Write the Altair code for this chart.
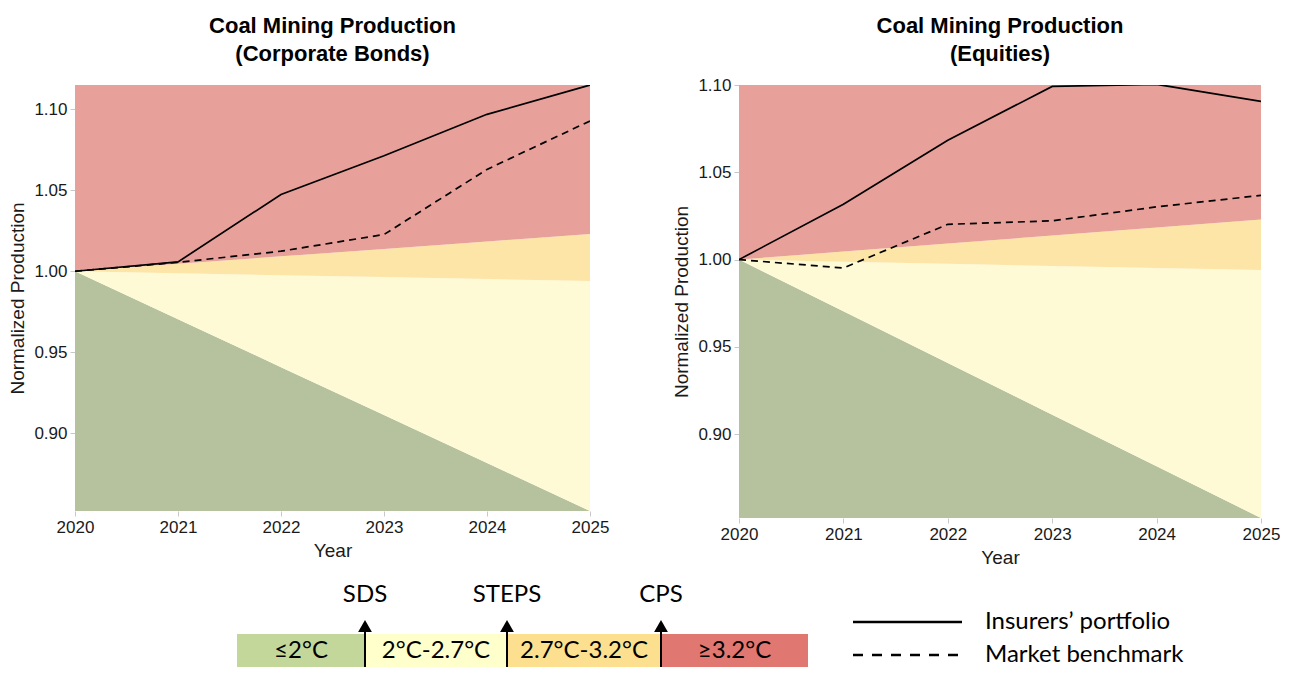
import altair as alt
import pandas as pd

# ---------------- data ----------------
years = [2020, 2021, 2022, 2023, 2024, 2025]

# temperature-scenario band boundaries (normalized production)
sds_bound = [1.000, 0.9704, 0.9408, 0.9112, 0.8816, 0.852]
steps_bound = [1.000, 0.9988, 0.9976, 0.9964, 0.9952, 0.994]
cps_bound = [1.000, 1.0046, 1.0092, 1.0138, 1.0184, 1.023]

bonds_portfolio = [1.000, 1.0058, 1.0474, 1.0713, 1.0969, 1.115]
bonds_benchmark = [1.000, 1.0055, 1.0124, 1.0227, 1.0629, 1.0928]
eq_portfolio = [1.000, 1.0317, 1.0683, 1.0992, 1.1004, 1.0906]
eq_benchmark = [1.000, 0.9952, 1.0202, 1.0222, 1.0302, 1.0368]

bonds_domain = [0.852, 1.115]
eq_domain = [0.852, 1.100]
y_ticks = [0.90, 0.95, 1.00, 1.05, 1.10]

band_colors = {"green": "#B6C29E", "yellow": "#FFFAD6", "orange": "#FDE5A7", "red": "#E8A09A"}

# bottom legend (positions on the legend strip's own scale)
legend_labels = ["≤2°C", "2°C-2.7°C", "2.7°C-3.2°C", "≥3.2°C"]
legend_colors = ["#C4D79B", "#FFFFCC", "#FDE08F", "#E07770"]
legend_breaks = [162, 290, 432, 586, 733]
arrow_names = ["SDS", "STEPS", "CPS"]
line_legend_labels = ["Insurers’ portfolio", "Market benchmark"]

FONT = "Liberation Sans, Arial, sans-serif"
LFONT = "Lato, sans-serif"


def panel(title_lines, portfolio, benchmark, domain, width, height, title_offset):
    df = pd.DataFrame({
        "year": years,
        "lo": [domain[0]] * len(years),
        "hi": [domain[1]] * len(years),
        "sds": sds_bound,
        "steps": steps_bound,
        "cps": cps_bound,
        "portfolio": portfolio,
        "benchmark": benchmark,
    })
    xs = alt.Scale(domain=[years[0], years[-1]], nice=False, zero=False)
    ys = alt.Scale(domain=domain, nice=False, zero=False)
    xax = alt.Axis(title="Year", values=years, format="d", grid=False, labelFlush=False)
    yax = alt.Axis(title="Normalized Production", values=y_ticks, format=".2f", grid=False, labelFlush=False)
    base = alt.Chart(df)

    def band(lo, hi, color):
        return base.mark_area(color=color, opacity=1, clip=True).encode(
            x=alt.X("year:Q", scale=xs, axis=xax),
            y=alt.Y(f"{lo}:Q", scale=ys, axis=yax),
            y2=f"{hi}:Q",
        )

    layers = [
        band("lo", "sds", band_colors["green"]),
        band("sds", "steps", band_colors["yellow"]),
        band("steps", "cps", band_colors["orange"]),
        band("cps", "hi", band_colors["red"]),
        base.mark_line(color="black", strokeWidth=1.7, clip=True).encode(
            x=alt.X("year:Q", scale=xs, axis=xax),
            y=alt.Y("portfolio:Q", scale=ys, axis=yax),
        ),
        base.mark_line(color="black", strokeWidth=1.7, strokeDash=[7, 5], clip=True).encode(
            x=alt.X("year:Q", scale=xs, axis=xax),
            y=alt.Y("benchmark:Q", scale=ys, axis=yax),
        ),
    ]
    return alt.layer(*layers).properties(
        width=width,
        height=height,
        title=alt.TitleParams(
            text=title_lines, fontSize=22, fontWeight="bold", font=FONT,
            lineHeight=28, offset=title_offset, anchor="middle", frame="group", color="#000000",
        ),
    )


left = panel(["Coal Mining Production", "(Corporate Bonds)"], bonds_portfolio, bonds_benchmark,
             bonds_domain, 515, 426, 19)
right = panel(["Coal Mining Production", "(Equities)"], eq_portfolio, eq_benchmark,
              eq_domain, 522, 433, 10)

top = alt.hconcat(left, right, spacing=63)

# ---------------- legend strip ----------------
LW, LH = 1180, 96
lx = alt.Scale(domain=[0, LW], nice=False, zero=False)
ly = alt.Scale(domain=[0, LH], reverse=True, nice=False, zero=False)

seg_df = pd.DataFrame({
    "x": legend_breaks[:-1], "x2": legend_breaks[1:],
    "label": legend_labels, "color": legend_colors,
})
seg_df["xm"] = (seg_df["x"] + seg_df["x2"]) / 2
seg_df["y"] = 63
seg_df["y2"] = 96
seg_df["ym"] = 80

arr_df = pd.DataFrame({"x": legend_breaks[1:4], "name": arrow_names})
arr_df["ytop"] = 53
arr_df["ybot"] = 96
arr_df["yhead"] = 55
arr_df["ytext"] = 24

ll_df = pd.DataFrame({"label": line_legend_labels, "y": [51, 84], "dash": ["solid", "dashed"]})
ll_df["x"] = 778
ll_df["x2"] = 887
ll_df["xt"] = 910

seg_base = alt.Chart(seg_df)
segs = seg_base.mark_rect().encode(
    x=alt.X("x:Q", scale=lx, axis=None), x2="x2:Q",
    y=alt.Y("y:Q", scale=ly, axis=None), y2="y2:Q",
    color=alt.Color("color:N", scale=None),
)
seg_text = seg_base.mark_text(font=LFONT, fontSize=24, color="#000000", baseline="middle").encode(
    x=alt.X("xm:Q", scale=lx, axis=None), y=alt.Y("ym:Q", scale=ly, axis=None), text="label:N",
)
arr_base = alt.Chart(arr_df)
arr_lines = arr_base.mark_rule(color="black", strokeWidth=2).encode(
    x=alt.X("x:Q", scale=lx, axis=None), y=alt.Y("ytop:Q", scale=ly, axis=None), y2="ybot:Q",
)
arr_heads = arr_base.mark_point(shape="triangle-up", filled=True, color="black", size=190, opacity=1).encode(
    x=alt.X("x:Q", scale=lx, axis=None), y=alt.Y("yhead:Q", scale=ly, axis=None),
)
arr_text = arr_base.mark_text(font=LFONT, fontSize=24, color="#000000", baseline="middle").encode(
    x=alt.X("x:Q", scale=lx, axis=None), y=alt.Y("ytext:Q", scale=ly, axis=None), text="name:N",
)
ll_base = alt.Chart(ll_df)
ll_solid = ll_base.transform_filter(alt.datum.dash == "solid").mark_rule(color="black", strokeWidth=2.5).encode(
    x=alt.X("x:Q", scale=lx, axis=None), x2="x2:Q", y=alt.Y("y:Q", scale=ly, axis=None),
)
ll_dashed = ll_base.transform_filter(alt.datum.dash == "dashed").mark_rule(
    color="black", strokeWidth=2.5, strokeDash=[10, 9]).encode(
    x=alt.X("x:Q", scale=lx, axis=None), x2="x2:Q", y=alt.Y("y:Q", scale=ly, axis=None),
)
ll_text = ll_base.mark_text(font=LFONT, fontSize=24, color="#000000", align="left", baseline="middle").encode(
    x=alt.X("xt:Q", scale=lx, axis=None), y=alt.Y("y:Q", scale=ly, axis=None), text="label:N",
)

legend = alt.layer(segs, seg_text, arr_lines, arr_heads, arr_text, ll_solid, ll_dashed, ll_text).properties(
    width=LW, height=LH
)

chart = alt.vconcat(top, legend, spacing=4).properties(
    padding={"left": 0, "top": 7, "right": 0, "bottom": 0}
).configure_view(stroke=None).configure_axis(
    labelFont=FONT, titleFont=FONT, labelFontSize=17, titleFontSize=19,
    labelColor="#1a1a1a", titleColor="#1a1a1a", titleFontWeight="normal",
    tickColor="#c8c8c8", tickSize=5, domain=False, labelPadding=3,
).configure_axisY(titlePadding=6).configure_axisX(titlePadding=6)

chart.save("out.html", embed_options={"renderer": "svg", "actions": False})
